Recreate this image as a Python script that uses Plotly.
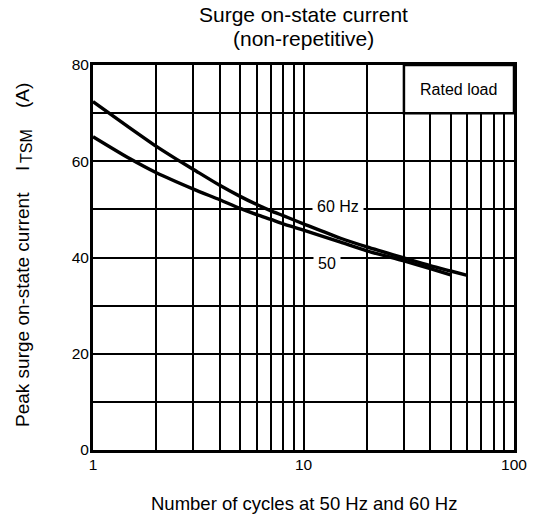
import numpy as np
import plotly.graph_objects as go

# ---- data ----
cycles_60 = [1, 1.5, 2, 2.5, 3, 4, 5, 6, 7, 8, 9, 10, 15, 20, 30, 40, 50, 60]
itsm_60 = [72.4, 66.9, 63.1, 60.4, 58.3, 55.0, 52.7, 51.0, 49.7, 48.7, 47.8, 47.0, 44.0, 42.2, 39.9, 38.3, 37.2, 36.3]
cycles_50 = [1, 1.5, 2, 3, 4, 5, 6, 7, 8, 9, 10, 15, 20, 30, 40, 50]
itsm_50 = [65.1, 60.5, 57.6, 54.2, 52.0, 50.2, 48.9, 47.9, 47.0, 46.3, 45.7, 43.2, 41.4, 39.3, 37.7, 36.4]

x_major_ticks = [1, 10, 100]
x_major_text = ["1", "10", "100"]
x_minor_ticks = [2, 3, 4, 5, 6, 7, 8, 9, 20, 30, 40, 50, 60, 70, 80, 90]
y_major_ticks = [0, 20, 40, 60, 80]
y_major_text = ["0", "20", "40", "60", "80"]
y_minor_ticks = [10, 30, 50, 70]

box_x = [30, 100]
box_y = [70, 80]
label_60 = (14.6, 50.7)
label_50 = (12.95, 38.8)

FONT = "Liberation Sans, Arial, Helvetica, sans-serif"
W, H = 539, 522
L, R, T, B = 93, 19, 65, 72
pw, ph = W - L - R, H - T - B


def px2paper_x(px):
    return (px - L) / pw


def px2paper_y(py):
    return (H - B - py) / ph


fig = go.Figure()

fig.add_trace(go.Scatter(
    x=[box_x[0], box_x[1], box_x[1], box_x[0], box_x[0]],
    y=[box_y[1], box_y[1], box_y[0], box_y[0], box_y[1]],
    mode="lines", fill="toself", fillcolor="white",
    line=dict(color="black", width=2.5), hoverinfo="skip", showlegend=False))

fig.add_trace(go.Scatter(x=cycles_60, y=itsm_60, mode="lines",
                         line=dict(color="black", width=3.4, shape="spline", smoothing=0.7),
                         showlegend=False))
fig.add_trace(go.Scatter(x=cycles_50, y=itsm_50, mode="lines",
                         line=dict(color="black", width=3.4, shape="spline", smoothing=0.7),
                         showlegend=False))

GRID = dict(gridcolor="black", gridwidth=1.5)
axis_common = dict(showgrid=True, showline=True, mirror=True, linecolor="black", linewidth=3,
                   ticks="", zeroline=False, tickmode="array", ticklabelstandoff=-2,
                   tickfont=dict(family=FONT, size=15.5, color="black"), **GRID)

fig.update_xaxes(type="log", range=[0, 2], tickvals=x_major_ticks, ticktext=x_major_text,
                 minor=dict(tickmode="array", tickvals=x_minor_ticks, showgrid=True, ticks="", **GRID),
                 **axis_common)
fig.update_yaxes(range=[0, 80], tickvals=y_major_ticks, ticktext=y_major_text,
                 minor=dict(tickmode="array", tickvals=y_minor_ticks, showgrid=True, ticks="", **GRID),
                 **axis_common)

ann = []
ann.append(dict(text="Surge on-state current", xref="paper", yref="paper",
                x=px2paper_x(306), y=px2paper_y(15), showarrow=False,
                font=dict(family=FONT, size=21, color="black"), xanchor="center", yanchor="middle"))
ann.append(dict(text="(non-repetitive)", xref="paper", yref="paper",
                x=px2paper_x(306), y=px2paper_y(38), showarrow=False,
                font=dict(family=FONT, size=21, color="black"), xanchor="center", yanchor="middle"))
ann.append(dict(text="Number of cycles at 50 Hz and 60 Hz", xref="paper", yref="paper",
                x=0.5, y=px2paper_y(503), showarrow=False,
                font=dict(family=FONT, size=18.5, color="black"), xanchor="center", yanchor="middle"))
ann.append(dict(text="Peak surge on-state current", xref="paper", yref="paper",
                x=px2paper_x(21), y=px2paper_y(310), showarrow=False, textangle=-90,
                font=dict(family=FONT, size=19, color="black"), xanchor="center", yanchor="middle"))
ann.append(dict(text="I", xref="paper", yref="paper",
                x=px2paper_x(21), y=px2paper_y(169), showarrow=False, textangle=-90,
                font=dict(family=FONT, size=19, color="black"), xanchor="center", yanchor="middle"))
ann.append(dict(text="TSM", xref="paper", yref="paper",
                x=px2paper_x(25), y=px2paper_y(146), showarrow=False, textangle=-90,
                font=dict(family=FONT, size=16, color="black"), xanchor="center", yanchor="middle"))
ann.append(dict(text="(A)", xref="paper", yref="paper",
                x=px2paper_x(21), y=px2paper_y(96), showarrow=False, textangle=-90,
                font=dict(family=FONT, size=19, color="black"), xanchor="center", yanchor="middle"))
ann.append(dict(text="Rated load", xref="x", yref="y",
                x=(np.log10(box_x[0]) + np.log10(box_x[1])) / 2, y=(box_y[0] + box_y[1]) / 2,
                showarrow=False, font=dict(family=FONT, size=16, color="black")))
ann.append(dict(text="60 Hz", xref="x", yref="y", x=np.log10(label_60[0]), y=label_60[1],
                showarrow=False, bgcolor="white", borderpad=4,
                font=dict(family=FONT, size=16, color="black")))
ann.append(dict(text="50", xref="x", yref="y", x=np.log10(label_50[0]), y=label_50[1],
                showarrow=False, bgcolor="white", borderpad=4,
                font=dict(family=FONT, size=16, color="black")))

fig.update_layout(width=W, height=H, margin=dict(l=L, r=R, t=T, b=B, pad=0),
                  paper_bgcolor="white", plot_bgcolor="white", annotations=ann,
                  font=dict(family=FONT, color="black"))

fig.write_html("out.html")
